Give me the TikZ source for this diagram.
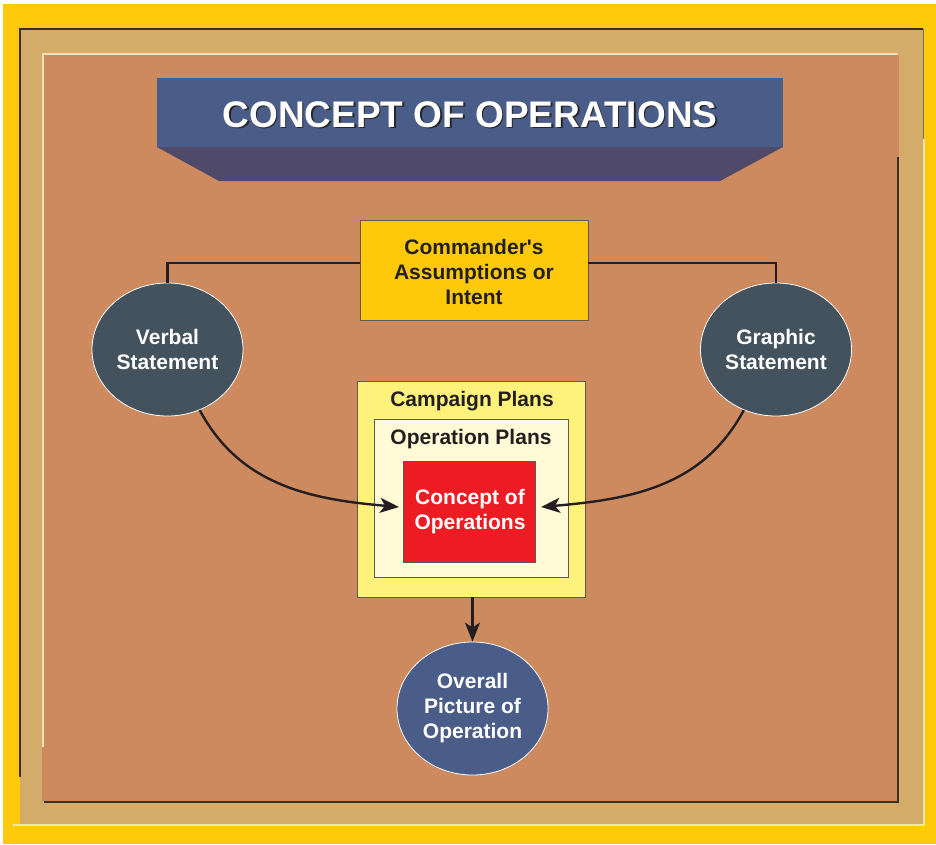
\documentclass[tikz,border=0pt]{standalone}
\usepackage{fontspec}
\setmainfont{Liberation Sans}[Ligatures=TeXOff]
\usetikzlibrary{shapes.geometric,arrows.meta}
\definecolor{bgyellow}{HTML}{FFCA0C}
\definecolor{tan}{HTML}{D3AC69}
\definecolor{brown}{HTML}{CC8A5E}
\definecolor{titleblue}{HTML}{4A5D88}
\definecolor{titlebottom}{HTML}{504A6A}
\definecolor{slate}{HTML}{43525C}
\definecolor{cmdyellow}{HTML}{FFC90B}
\definecolor{campyellow}{HTML}{FFF27A}
\definecolor{opcream}{HTML}{FFFBD7}
\definecolor{conred}{HTML}{ED1C24}
\definecolor{txtdark}{HTML}{231F20}
\definecolor{framedark}{HTML}{3A3026}
\definecolor{framelight}{HTML}{F3E1B5}
\begin{document}
\begin{tikzpicture}[x=1pt,y=-1pt,
  lbl/.style={font=\fontsize{21}{25}\selectfont\bfseries, align=center, text=txtdark, inner sep=0pt},
  ell/.style={ellipse, draw=white, line width=0.8pt, minimum width=151pt, minimum height=133pt, inner sep=0pt, text=white, font=\fontsize{21}{25}\selectfont\bfseries, align=center},
  boxst/.style={rectangle, draw=framedark!80, line width=0.8pt, inner sep=0pt},
  conn/.style={draw=txtdark, line width=2.4pt},
  arr/.style={conn, -{Stealth[length=19pt,width=15pt,inset=5pt]}},
  titletxt/.style={font=\fontsize{37}{40}\selectfont\bfseries, inner sep=0pt}
]
\useasboundingbox (0,0) rectangle (936,844);
% frame
\fill[white] (0,0) rectangle (936,844);
\fill[bgyellow] (3,4) rectangle (936,844);
\fill[tan] (20,29) rectangle (924,825);
\draw[framedark, line width=2pt] (20,777) -- (20,29) -- (923,29);
\draw[framedark!70, line width=1pt] (923,29) -- (923,139);
\draw[framelight, line width=1.2pt] (13,825) -- (924,825) -- (924,139);
\fill[brown] (42,55) rectangle (899,801);
\draw[framelight, line width=1.5pt] (43,747) -- (43,54) -- (898,54);
\draw[framedark, line width=1.5pt] (898,157) -- (898,802) -- (44,802);
% title
\fill[titleblue] (157,78) rectangle (783,147);
\fill[titlebottom] (157,147) -- (783,147) -- (720,181) -- (219,181) -- cycle;
\node[titletxt, text=black!85] (titleshadow) at (471.5,116) {CONCEPT OF OPERATIONS};
\node[titletxt, text=white] (title) at (470,114.5) {CONCEPT OF OPERATIONS};
% commander
\node[boxst, fill=cmdyellow, minimum width=228pt, minimum height=100pt] (cmd) at (474,270) {};
\node[lbl] (cmdtxt) at (474,272) {Commander's\\Assumptions or\\Intent};
% ellipses
\node[ell, fill=slate] (vb) at (167.5,349.5) {Verbal\\Statement};
\node[ell, fill=slate] (gs) at (776,349.5) {Graphic\\Statement};
\node[ell, fill=titleblue] (ov) at (472.5,708.5) {Overall\\Picture of\\Operation};
% nested boxes
\node[boxst, fill=campyellow, minimum width=228pt, minimum height=216pt] (camp) at (471,489) {};
\node[boxst, fill=opcream, minimum width=194pt, minimum height=158pt] (op) at (471,498) {};
\node[boxst, fill=conred, minimum width=132pt, minimum height=101pt] (red) at (469,511.5) {};
\node[lbl] (camptxt) at (472,401) {Campaign Plans};
\node[lbl] (optxt) at (471,439) {Operation Plans};
\node[lbl, text=white] (redtxt) at (470,512) {Concept of\\Operations};
% connectors
\draw[conn] ([yshift=7pt]cmd.west) -| (vb.north);
\draw[conn] ([yshift=7pt]cmd.east) -| (gs.north);
\coordinate (tipL) at (399,507);
\coordinate (tipR) at (541,507);
\draw[arr] (vb.-62) to[out=-62,in=175] (tipL);
\draw[arr] (gs.-118) to[out=-118,in=5] (tipR);
\draw[arr] (camp.south -| ov.north) -- (ov.north);
\end{tikzpicture}
\end{document}
